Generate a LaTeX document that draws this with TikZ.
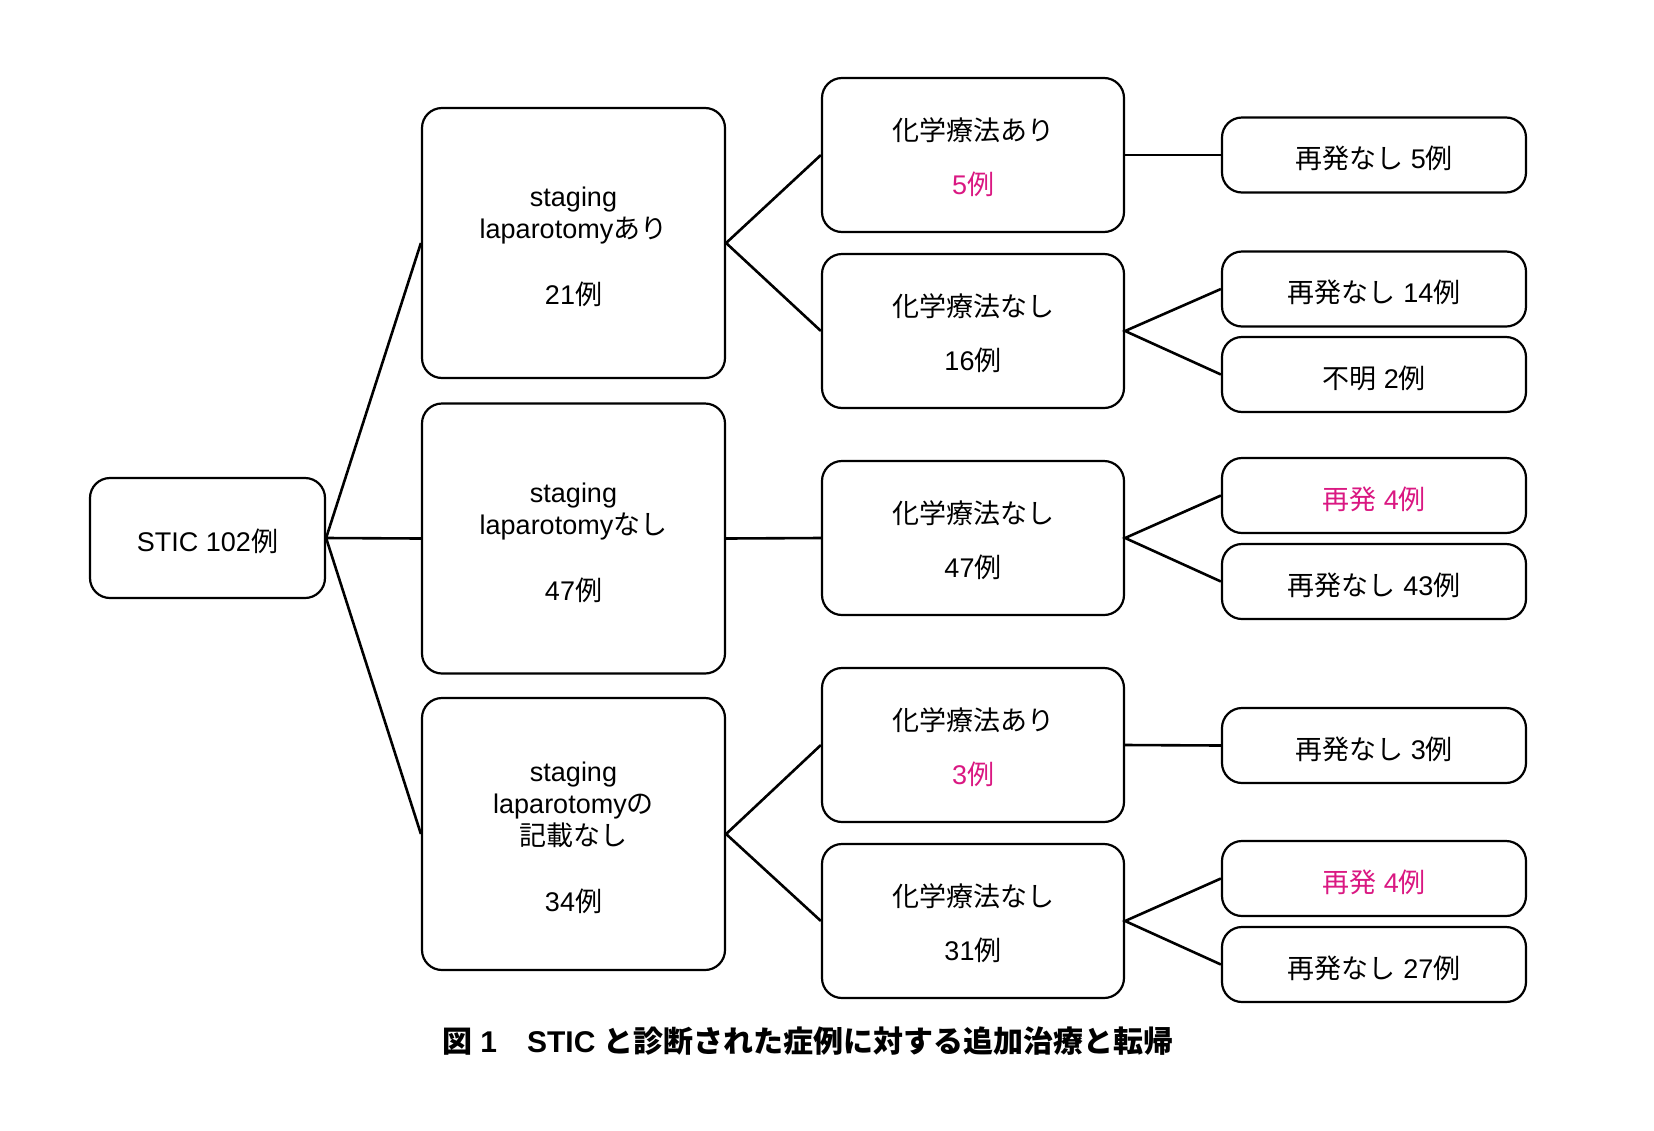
\documentclass[tikz,border=0pt]{standalone}
\usepackage{fontspec}
\setmainfont{Liberation Sans}
\newfontfamily\jp{Noto Sans CJK JP}
\newcommand{\J}[1]{{\jp #1}}
\newcommand{\Tp}{\rule{0pt}{14pt}}
\definecolor{hl}{RGB}{218,24,130}
\begin{document}
\begin{tikzpicture}[x=0.5pt,y=-0.5pt,
  box/.style={draw, line width=1.1pt, rounded corners=10pt, align=center, inner sep=0pt,
    font=\fontsize{13.5}{16}\selectfont},
  one/.style={execute at begin node={\rule{0pt}{15pt}}},
  col1/.style={box, one, minimum width=117.5pt, minimum height=60pt},
  col2/.style={box, minimum width=151.5pt, minimum height=135pt},
  col3/.style={box, minimum width=151pt, minimum height=77pt},
  col4/.style={box, one, minimum width=152pt, minimum height=37.5pt},
  link/.style={line width=1.3pt}]
\useasboundingbox (0,0) rectangle (1654,1130);
\fill[white] (0,0) rectangle (1654,1130);

\node[col1] (stic) at (207.5,538) {STIC 102\J{例}};

\node[col2] (s1) at (573.5,243) {\Tp staging\\laparotomy\J{あり}\\[17pt]21\J{例}};
\node[col2] (s2) at (573.5,538.5) {\Tp staging\\laparotomy\J{なし}\\[17pt]47\J{例}};
\node[col2, minimum height=136pt] (s3) at (573.5,834) {\Tp staging\\laparotomy\J{の}\\\J{記載なし}\\[17pt]34\J{例}};

\node[col3] (c1) at (973,155) {\Tp\J{化学療法あり}\\[11pt]\textcolor{hl}{5\J{例}}};
\node[col3] (c2) at (973,331) {\Tp\J{化学療法なし}\\[11pt]16\J{例}};
\node[col3] (c3) at (973,538) {\Tp\J{化学療法なし}\\[11pt]47\J{例}};
\node[col3] (c4) at (973,745) {\Tp\J{化学療法あり}\\[11pt]\textcolor{hl}{3\J{例}}};
\node[col3] (c5) at (973,921) {\Tp\J{化学療法なし}\\[11pt]31\J{例}};

\node[col4] (r1) at (1374,155) {\J{再発なし} 5\J{例}};
\node[col4] (r2) at (1374,289) {\J{再発なし} 14\J{例}};
\node[col4] (r3) at (1374,374.5) {\J{不明} 2\J{例}};
\node[col4] (r4) at (1374,495.5) {\textcolor{hl}{\J{再発} 4\J{例}}};
\node[col4] (r5) at (1374,581.5) {\J{再発なし} 43\J{例}};
\node[col4] (r6) at (1374,745.5) {\J{再発なし} 3\J{例}};
\node[col4] (r7) at (1374,878.5) {\textcolor{hl}{\J{再発} 4\J{例}}};
\node[col4] (r8) at (1374,964.5) {\J{再発なし} 27\J{例}};

\draw[link] (s1.west) -- (stic.east) -- (s3.west);
\draw[link] (stic.east) -- (s2.west);
\draw[link] (c1.west) -- (s1.east) -- (c2.west);
\draw[link] (s2.east) -- (c3.west);
\draw[link] (c4.west) -- (s3.east) -- (c5.west);
\draw[link] (c1.east) -- (r1.west);
\draw[link] (r2.west) -- (c2.east) -- (r3.west);
\draw[link] (r4.west) -- (c3.east) -- (r5.west);
\draw[link] (c4.east) -- (r6.west);
\draw[link] (r7.west) -- (c5.east) -- (r8.west);

\node[font=\fontsize{15}{18}\selectfont\bfseries, inner sep=0pt] (cap) at (808,1041)
  {\J{図} 1\hspace{1em}STIC \J{と診断された症例に対する追加治療と転帰}};
\end{tikzpicture}
\end{document}
